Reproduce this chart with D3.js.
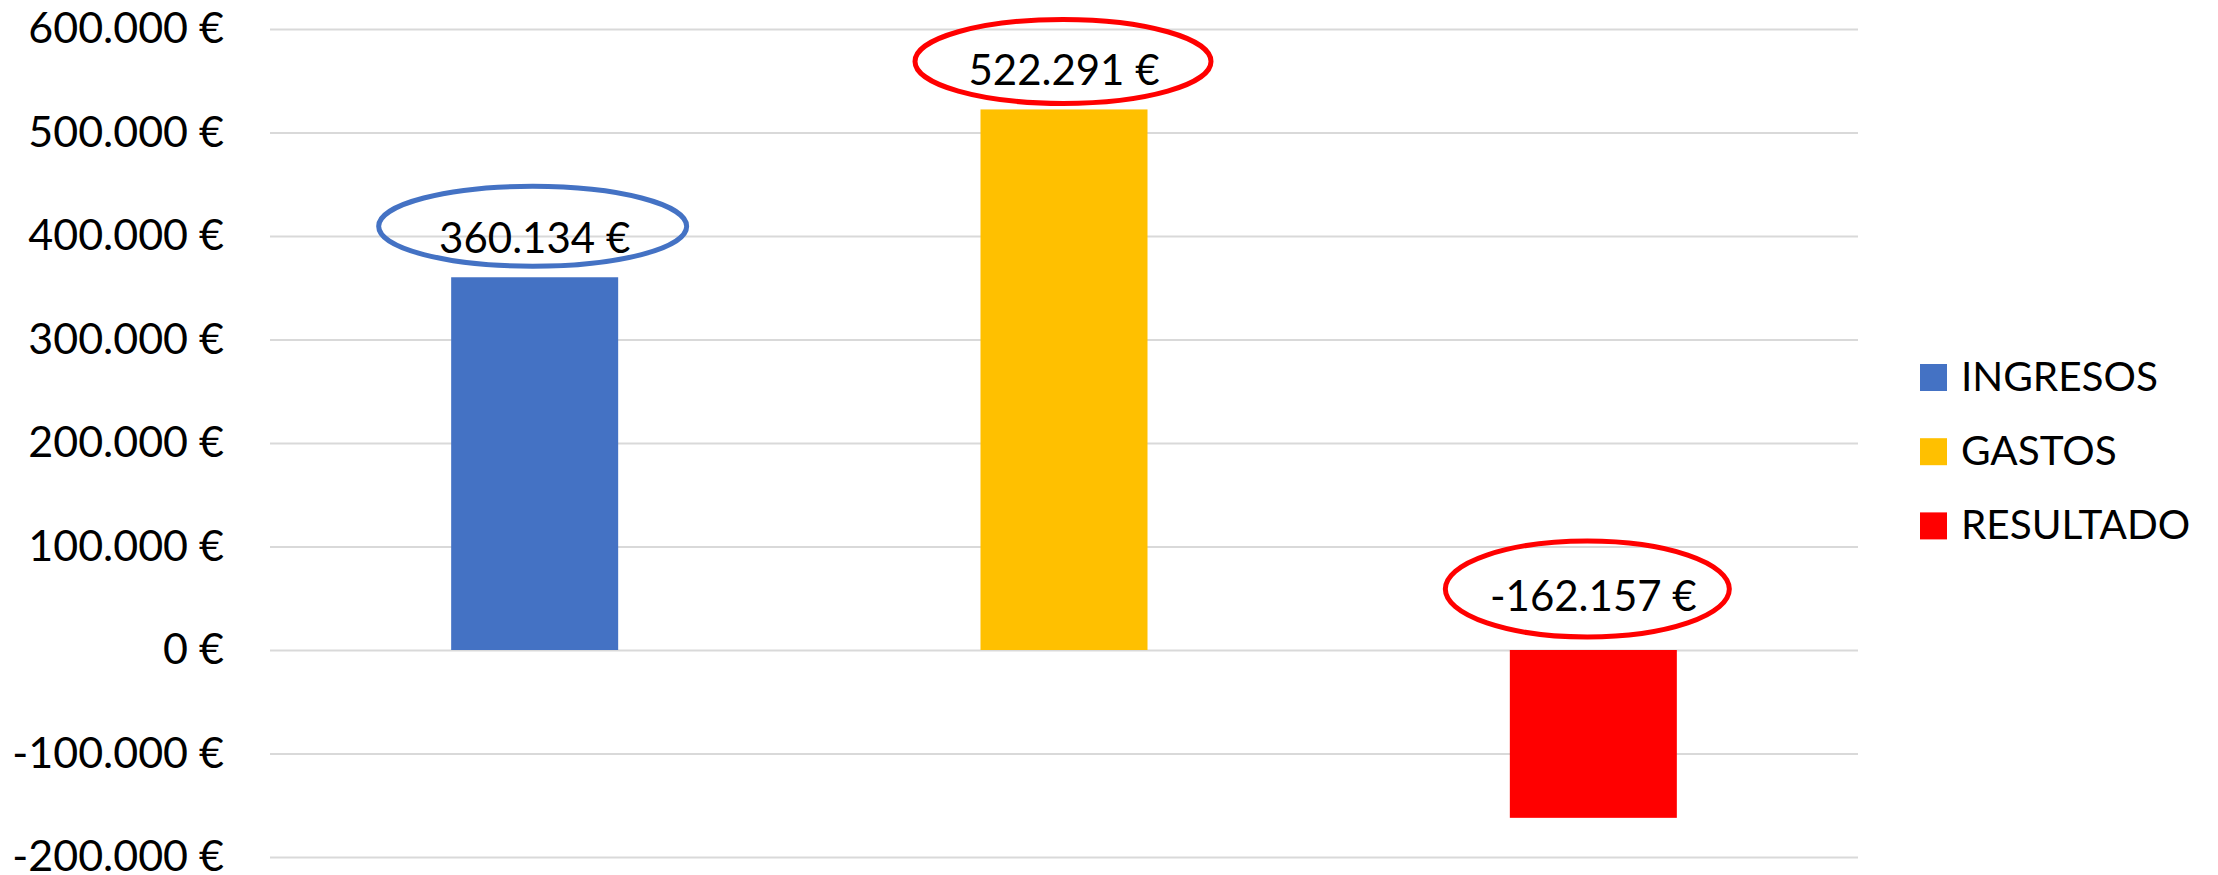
<!DOCTYPE html>
<html>
<head>
<meta charset="utf-8">
<script src="https://cdn.jsdelivr.net/npm/d3@7"></script>
<style>
  body { margin: 0; background: #fff; }
  text { font-family: Lato, "Open Sans", sans-serif; fill: #000; }
</style>
</head>
<body>
<svg id="svg"></svg>
<script>
/**
 * CONSTANTS AND GLOBALS
 * */
const width = 2218,
  height = 875,
  margin = { top: 29, bottom: 18, left: 270, right: 360 };

// chart data
const series = ["INGRESOS", "GASTOS", "RESULTADO"];
const values = [360134, 522291, -162157];
const colors = ["#4472C4", "#FFC000", "#FF0000"];
const yTicks = [-200000, -100000, 0, 100000, 200000, 300000, 400000, 500000, 600000];
// hand drawn rings round the labels
const ringColors = ["#4472C4", "#FF0000", "#FF0000"];
const ringSize = [[154, 40], [148, 42], [142, 48]];
const ringShift = [[-2, -27], [-1, -24], [-6, -22]];

const euro = d3.formatLocale({
  decimal: ",", thousands: ".", grouping: [3], currency: ["", " €"], minus: "-"
});
const fmt = v => euro.format(",.0f")(v) + " €";

let svg = d3.select("#svg")
  .attr("width", width)
  .attr("height", height);

const xScale = d3.scaleBand()
  .domain(series)
  .range([margin.left, width - margin.right])
  .paddingInner(0.6845)
  .paddingOuter(0.34225);

const yScale = d3.scaleLinear()
  .domain([-200000, 600000])
  .range([height - margin.bottom, margin.top]);

// axis + gridlines
const yAxis = d3.axisLeft(yScale)
  .tickValues(yTicks)
  .tickFormat(fmt)
  .tickSize(-(width - margin.right - margin.left))
  .tickSizeOuter(0)
  .tickPadding(46);

const gAxis = svg.append("g")
  .attr("transform", `translate(${margin.left},0)`)
  .call(yAxis);
gAxis.select(".domain").remove();
gAxis.selectAll(".tick line")
  .attr("stroke", "#d9d9d9")
  .attr("stroke-width", 2);
gAxis.selectAll(".tick text")
  .attr("font-size", 43)
  .attr("font-family", "Lato, 'Open Sans', sans-serif")
  .attr("fill", "#000");

// bars
svg.selectAll("rect.bar")
  .data(values)
  .join("rect")
  .attr("class", "bar")
  .attr("x", (d, i) => xScale(series[i]))
  .attr("width", xScale.bandwidth())
  .attr("y", d => yScale(Math.max(0, d)))
  .attr("height", d => Math.abs(yScale(d) - yScale(0)))
  .attr("fill", (d, i) => colors[i]);

// data labels
const labelY = d => d >= 0 ? yScale(d) - 24 : yScale(0) - 39;

svg.selectAll("text.value")
  .data(values)
  .join("text")
  .attr("class", "value")
  .attr("x", (d, i) => xScale(series[i]) + xScale.bandwidth() / 2)
  .attr("y", labelY)
  .attr("text-anchor", "middle")
  .attr("font-size", 42)
  .text(fmt);

svg.selectAll("ellipse.ring")
  .data(values)
  .join("ellipse")
  .attr("class", "ring")
  .attr("cx", (d, i) => xScale(series[i]) + xScale.bandwidth() / 2 + ringShift[i][0])
  .attr("cy", (d, i) => labelY(d) + ringShift[i][1])
  .attr("rx", (d, i) => ringSize[i][0])
  .attr("ry", (d, i) => ringSize[i][1])
  .attr("fill", "none")
  .attr("stroke", (d, i) => ringColors[i])
  .attr("stroke-width", 5);

// legend
const legend = svg.append("g")
  .attr("transform", "translate(1920,364)");

const item = legend.selectAll("g")
  .data(series)
  .join("g")
  .attr("transform", (d, i) => `translate(0,${i * 74.2})`);

item.append("rect")
  .attr("width", 27)
  .attr("height", 27)
  .attr("fill", (d, i) => colors[i]);

item.append("text")
  .attr("x", 41)
  .attr("y", 27)
  .attr("font-size", 40.5)
  .text(d => d);
</script>
</body>
</html>
